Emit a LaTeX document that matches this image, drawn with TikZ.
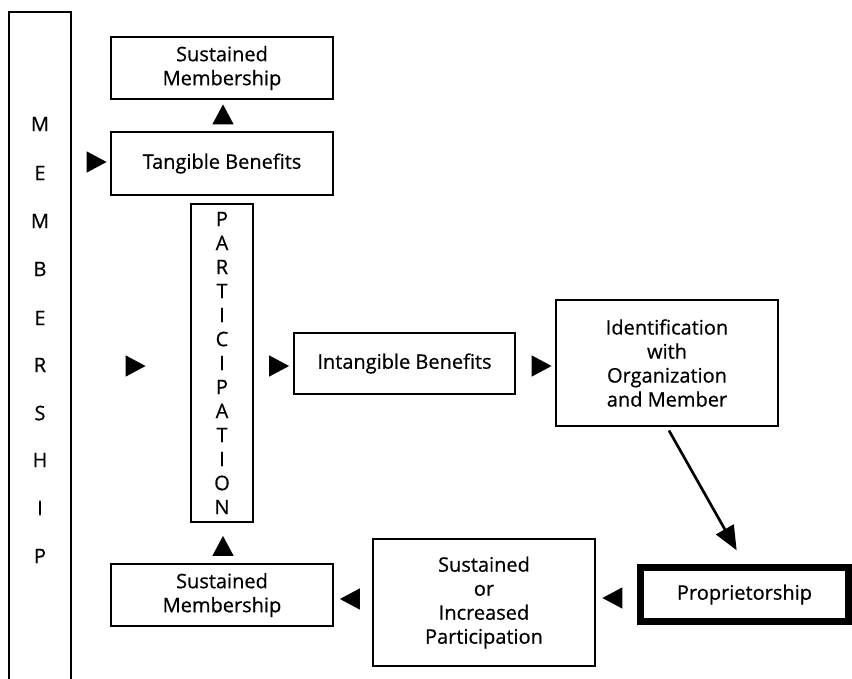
\documentclass[tikz,border=0pt]{standalone}
\usepackage{fontspec}
\setmainfont{Open Sans}[FakeBold=0.6]
\usetikzlibrary{arrows.meta, positioning, shapes.geometric}

\tikzset{
  box/.style={draw, line width=1.5pt, align=center, inner sep=2pt,
    font=\fontsize{15}{18}\selectfont},
  letter/.style={font=\fontsize{15}{18}\selectfont},
  tri/.style={isosceles triangle, isosceles triangle stretches, fill=black,
    inner sep=0pt, minimum width=16pt, minimum height=15pt},
}

\begin{document}
\begin{tikzpicture}[x=0.75pt, y=-0.75pt]
  \useasboundingbox (0,0) rectangle (852,678);

  % Membership bar
  \draw[line width=1.5pt] (9,700) -- (9,12) -- (71,12) -- (71,700);
  \foreach \l/\y [count=\i] in {M/124,E/173,M/221,B/269,E/318,R/365,S/413,H/460,I/508,P/556} {
    \node[letter] (m\i) at (40,\y) {\l};
  }

  % Upper branch
  \node[box, minimum width=166.5pt, minimum height=46.5pt] (topsm) at (222,68) {Sustained\\Membership};
  \node[box, minimum width=166.5pt, minimum height=47.25pt] (tang) at (222,163.5) {Tangible Benefits};
  \node[tri, shape border rotate=90] (t1) at (223,118) {};
  \node[tri] (t2) at (93,162) {};

  % Participation
  \node[box, minimum width=46.5pt, minimum height=238.5pt] (part) at (222,363)
    {P\\A\\R\\T\\I\\C\\I\\P\\A\\T\\I\\O\\N};
  \node[tri] (t3) at (132,366) {};
  \node[tri] (t4) at (275.5,366) {};

  % Middle row
  \node[box, minimum width=165.75pt, minimum height=45.75pt] (intang) at (404.5,363.5) {Intangible Benefits};
  \node[tri] (t5) at (538,366) {};
  \node[box, minimum width=166.5pt, minimum height=94.5pt] (ident) at (667,363)
    {Identification\\with\\Organization\\and Member};

  % Lower row
  \node[box, line width=5pt, minimum width=156pt, minimum height=40.5pt] (propr) at (744.5,594.5) {Proprietorship};
  \draw[line width=2pt, -{Triangle[length=18pt,width=15pt]}, shorten <=3pt, shorten >=12pt]
    (ident.south) -- (propr.north);
  \node[tri, shape border rotate=180] (t6) at (616,598) {};
  \node[box, minimum width=166.5pt, minimum height=95.25pt] (sip) at (484,602.5)
    {Sustained\\or\\Increased\\Participation};
  \node[tri, shape border rotate=180] (t7) at (353.5,599) {};
  \node[box, minimum width=166.5pt, minimum height=46.5pt] (botsm) at (222,595) {Sustained\\Membership};
  \node[tri, shape border rotate=90] (t8) at (223,549.5) {};
\end{tikzpicture}
\end{document}
